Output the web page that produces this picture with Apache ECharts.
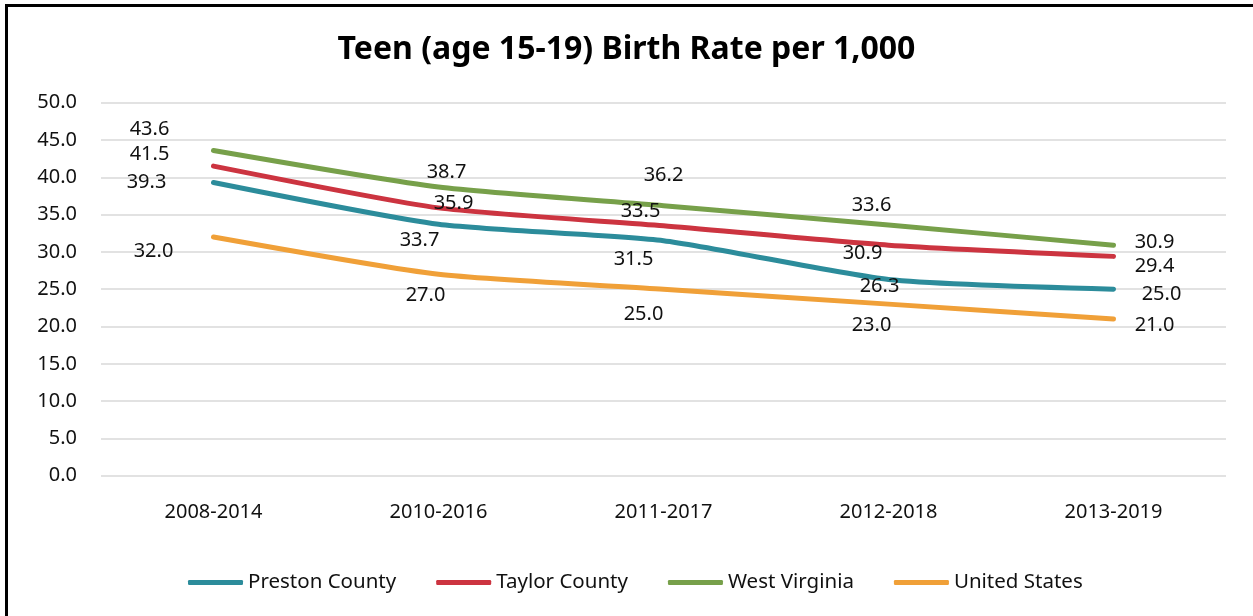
<!DOCTYPE html>
<html>
<head>
<meta charset="utf-8">
<script src="https://cdn.jsdelivr.net/npm/echarts@6/dist/echarts.min.js"></script>
<style>
  html, body { margin: 0; padding: 0; background: #fff; }
  #frame { position: absolute; left: 5px; top: 4px; width: 1260px; height: 620px;
           border-left: 3px solid #000; border-top: 3px solid #000; box-sizing: border-box; }
  #chart { position: absolute; left: 0; top: 0; width: 1253px; height: 616px; }
</style>
</head>
<body>
<div id="frame"></div>
<div id="chart"></div>
<script>
const categories = ['2008-2014', '2010-2016', '2011-2017', '2012-2018', '2013-2019'];
const prestonCounty = [39.3, 33.7, 31.5, 26.3, 25.0];
const taylorCounty = [41.5, 35.9, 33.5, 30.9, 29.4];
const westVirginia = [43.6, 38.7, 36.2, 33.6, 30.9];
const unitedStates = [32.0, 27.0, 25.0, 23.0, 21.0];

// label offsets (px) relative to each point, as placed in the reference
const labelOffsets = {
  preston: [[-67, 0], [-19, 16], [-30, 19], [-9, 7], [48, 5]],
  taylor: [[-64, -12], [15, -5], [-23, -14], [-26, 8], [41, 10]],
  wv: [[-64, -21], [8, -15], [0, -30], [-17, -20], [41, -3]],
  us: [[-60, 14], [-13, 21], [-20, 25], [-17, 21], [41, 6]]
};

const FONT = 'Noto Sans';

function makeSeries(name, values, color, offsets) {
  return {
    name: name,
    type: 'line',
    smooth: 0.2,
    symbol: 'circle',
    symbolSize: 1,
    showSymbol: true,
    itemStyle: { color: color },
    lineStyle: { color: color, width: 5, cap: 'round', join: 'round' },
    label: {
      show: true,
      position: 'inside',
      color: '#111',
      fontFamily: FONT,
      fontSize: 20,
      formatter: p => Number(p.value).toFixed(1)
    },
    emphasis: { disabled: true },
    data: values.map((v, i) => ({ value: v, label: { offset: offsets[i] } }))
  };
}

const chart = echarts.init(document.getElementById('chart'), null, { renderer: 'canvas' });
chart.setOption({
  animation: false,
  backgroundColor: 'transparent',
  title: {
    text: 'Teen (age 15-19) Birth Rate per 1,000',
    left: 'center',
    top: 29,
    textStyle: { fontFamily: FONT, fontWeight: 'bold', fontSize: 32, color: '#000' }
  },
  legend: {
    left: 183,
    top: 567,
    itemWidth: 55,
    itemHeight: 5,
    itemGap: 40,
    icon: 'roundRect',
    textStyle: { fontFamily: FONT, fontSize: 20.5, color: '#111' },
    data: ['Preston County', 'Taylor County', 'West Virginia', 'United States']
  },
  grid: { left: 101, right: 27, top: 102.7, bottom: 140.3, containLabel: false },
  xAxis: {
    type: 'category',
    data: categories,
    boundaryGap: true,
    axisLine: { show: false },
    axisTick: { show: false },
    axisLabel: { margin: 27, fontFamily: FONT, fontSize: 20, color: '#111' }
  },
  yAxis: {
    type: 'value',
    min: 0,
    max: 50,
    interval: 5,
    axisLine: { show: false },
    axisTick: { show: false },
    axisLabel: { margin: 24, fontFamily: FONT, fontSize: 20, color: '#111',
                 formatter: v => v.toFixed(1) },
    splitLine: { lineStyle: { color: '#D9D9D9', width: 1.5 } }
  },
  series: [
    makeSeries('Preston County', prestonCounty, '#2C8C9B', labelOffsets.preston),
    makeSeries('Taylor County', taylorCounty, '#CC3440', labelOffsets.taylor),
    makeSeries('West Virginia', westVirginia, '#77A04A', labelOffsets.wv),
    makeSeries('United States', unitedStates, '#F0A038', labelOffsets.us)
  ]
});
</script>
</body>
</html>
